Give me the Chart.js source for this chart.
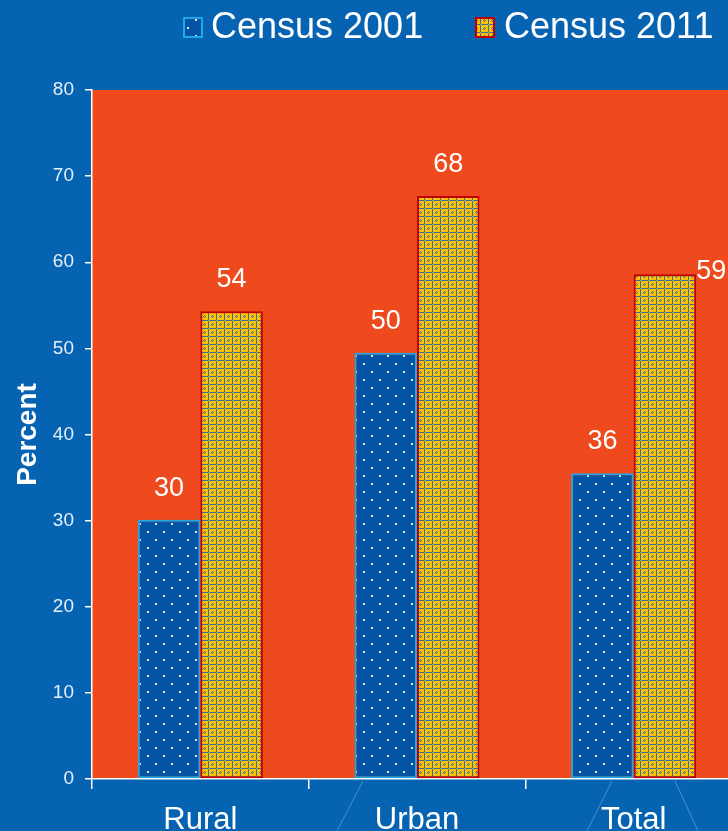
<!DOCTYPE html>
<html>
<head>
<meta charset="utf-8">
<script src="https://cdn.jsdelivr.net/npm/chart.js@4.4.1/dist/chart.umd.min.js"></script>
<style>
  html, body { margin: 0; padding: 0; overflow: hidden; background: #0563B1; }
  #wrap { width: 742px; height: 831px; }
</style>
</head>
<body>
<div id="wrap"><canvas id="chart" width="742" height="831"></canvas></div>
<script>
const categories = ["Rural", "Urban", "Total"];
const seriesNames = ["Census 2001", "Census 2011"];
const census2001 = [30.1, 49.5, 35.5];
const census2011 = [54.3, 67.7, 58.6];
const labels2001 = ["30", "50", "36"];
const labels2011 = ["54", "68", "59"];
const yTicks = [0, 10, 20, 30, 40, 50, 60, 70, 80];

const FONT = "'Liberation Sans', Arial, sans-serif";
const BG = "#0563B1";
const PLOT_BG = "#EE4A1E";

// dotted blue fill for 2001
function dotPattern() {
  const c = document.createElement("canvas");
  c.width = 16; c.height = 16;
  const g = c.getContext("2d");
  g.fillStyle = "#0354A5";
  g.fillRect(0, 0, 16, 16);
  g.fillStyle = "rgba(255,255,255,0.85)";
  g.fillRect(3, 3, 2, 2);
  g.fillRect(11, 11, 2, 2);
  return g.createPattern(c, "repeat");
}

// yellow/blue plaid for 2011
function plaidPattern() {
  const c = document.createElement("canvas");
  c.width = 8; c.height = 8;
  const g = c.getContext("2d");
  g.fillStyle = "#FFC200";
  g.fillRect(0, 0, 8, 8);
  g.fillStyle = "#2F6DB3";
  g.fillRect(0, 1, 1, 7);
  g.fillRect(1, 0, 7, 1);
  g.fillRect(4, 3, 1, 1);
  g.fillRect(4, 5, 1, 1);
  g.fillRect(3, 4, 1, 1);
  g.fillRect(5, 4, 1, 1);
  return g.createPattern(c, "repeat");
}

const fill2001 = dotPattern();
const fill2011 = plaidPattern();

const seriesLabels = [labels2001, labels2011];

const backgroundPlugin = {
  id: "backgroundPlugin",
  beforeDraw(chart) {
    const { ctx, chartArea } = chart;
    ctx.save();
    ctx.fillStyle = BG;
    ctx.fillRect(0, 0, chart.width, chart.height);
    // faint decoration lines below the axis
    ctx.strokeStyle = "rgba(160,200,240,0.45)";
    ctx.lineWidth = 1;
    ctx.beginPath();
    ctx.moveTo(363, 781); ctx.lineTo(337, 831);
    ctx.moveTo(612, 781); ctx.lineTo(587, 831);
    ctx.moveTo(675, 781); ctx.lineTo(698, 831);
    ctx.stroke();
    ctx.fillStyle = PLOT_BG;
    ctx.fillRect(chartArea.left, chartArea.top, chartArea.right - chartArea.left, chartArea.bottom - chartArea.top);
    ctx.restore();
  }
};

const valueLabels = {
  id: "valueLabels",
  afterDatasetsDraw(chart) {
    const ctx = chart.ctx;
    const lastDs = chart.data.datasets.length - 1;
    const lastIdx = chart.data.labels.length - 1;
    ctx.save();
    ctx.font = "27px " + FONT;
    ctx.fillStyle = "#ffffff";
    chart.data.datasets.forEach((ds, di) => {
      chart.getDatasetMeta(di).data.forEach((bar, i) => {
        const text = seriesLabels[di][i];
        if (di === lastDs && i === lastIdx) {
          // rightmost bar is cut by the frame: label sits beside it
          ctx.textAlign = "left";
          ctx.fillText(text, bar.x + bar.width / 2, bar.y + 5);
        } else {
          ctx.textAlign = "center";
          ctx.fillText(text, bar.x, bar.y - 24);
        }
      });
    });
    ctx.restore();
  }
};

const legendPlugin = {
  id: "legendPlugin",
  afterDraw(chart) {
    const ctx = chart.ctx;
    const items = [
      { x: 184, text: seriesNames[0], fill: fill2001, border: "#1FA8E8", tx: 211 },
      { x: 476, text: seriesNames[1], fill: fill2011, border: "#C00000", tx: 504 }
    ];
    ctx.save();
    ctx.font = "36px " + FONT;
    ctx.textBaseline = "middle";
    ctx.textAlign = "left";
    items.forEach(it => {
      ctx.fillStyle = it.fill;
      ctx.fillRect(it.x, 18, 18, 19);
      ctx.strokeStyle = it.border;
      ctx.lineWidth = 2;
      ctx.strokeRect(it.x, 18, 18, 19);
      ctx.fillStyle = "#ffffff";
      ctx.fillText(it.text, it.tx, 28);
    });
    ctx.restore();
  }
};

new Chart(document.getElementById("chart"), {
  type: "bar",
  data: {
    labels: categories,
    datasets: [
      {
        label: seriesNames[0],
        data: census2001,
        backgroundColor: fill2001,
        borderColor: "#1FA8E8",
        borderWidth: 2,
        borderSkipped: false
      },
      {
        label: seriesNames[1],
        data: census2011,
        backgroundColor: fill2011,
        borderColor: "#C00000",
        borderWidth: 2,
        borderSkipped: false
      }
    ]
  },
  options: {
    responsive: false,
    animation: false,
    layout: { padding: { top: 90, right: 0, bottom: 0, left: 0 } },
    datasets: { bar: { categoryPercentage: 0.577, barPercentage: 1.0 } },
    plugins: {
      legend: { display: false },
      tooltip: { enabled: false }
    },
    scales: {
      x: {
        afterFit(scale) { scale.height = 52; },
        grid: {
          offset: true,
          drawOnChartArea: false,
          tickLength: 10,
          color: "#ffffff",
          lineWidth: 1.5
        },
        border: { color: "#ffffff", width: 1.5 },
        ticks: { color: "#ffffff", font: { family: FONT, size: 31 }, padding: 13 }
      },
      y: {
        min: 0,
        max: 80,
        afterFit(scale) { scale.width = 92; },
        afterBuildTicks(scale) { scale.ticks = yTicks.map(v => ({ value: v })); },
        grid: {
          drawOnChartArea: false,
          tickLength: 7,
          color: "#ffffff",
          lineWidth: 1.5
        },
        border: { color: "#ffffff", width: 1.5 },
        ticks: { color: "#E6EEF8", font: { family: FONT, size: 19 }, padding: 11 },
        title: {
          display: true,
          text: "Percent",
          color: "#ffffff",
          font: { family: FONT, size: 28, weight: "bold" },
          padding: { top: 11, bottom: 0 }
        }
      }
    }
  },
  plugins: [backgroundPlugin, valueLabels, legendPlugin]
});
</script>
</body>
</html>
